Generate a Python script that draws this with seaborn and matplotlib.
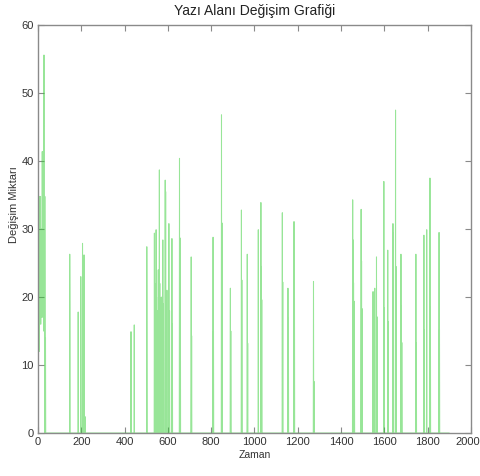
import numpy as np
import pandas as pd
import matplotlib
matplotlib.use("Agg")
import matplotlib.pyplot as plt
import matplotlib.transforms as mtransforms
import seaborn as sns

# ---- data ----
title = "Yazı Alanı Değişim Grafiği"
x_label = "Zaman"
y_label = "Değişim Miktarı"
x_ticks = [0, 200, 400, 600, 800, 1000, 1200, 1400, 1600, 1800, 2000]
y_ticks = [0, 10, 20, 30, 40, 50, 60]

# spike positions (Zaman) and heights (Değişim Miktarı)
spike_times = [
    0, 1, 2, 3, 4, 5, 6, 7, 8, 9, 10, 11, 12, 13, 14, 15, 16, 17, 18, 19,
    20, 21, 22, 23, 24, 25, 26, 27, 28, 29, 30, 32, 33, 35,
    147, 148, 186, 198, 206, 207, 213, 218,
    430, 445, 503, 504,
    538, 540, 546, 548, 552, 556, 561, 563, 570, 577, 580, 588, 590, 596,
    605, 608, 619, 621, 654, 656, 658, 708, 710,
    809, 811, 848, 850, 889, 891, 940, 942, 967, 969,
    1018, 1030, 1032, 1034, 1129, 1131, 1155, 1157, 1183, 1185, 1273, 1275,
    1454, 1456, 1458, 1460, 1462, 1493, 1495, 1497,
    1548, 1550, 1556, 1564, 1566, 1598, 1600, 1616, 1618,
    1640, 1642, 1652, 1654, 1677, 1679, 1681,
    1746, 1748, 1783, 1785, 1796, 1811, 1813, 1853, 1855,
]
spike_values = [
    18, 22, 15, 25, 20, 30, 12, 19, 34.8, 17, 21, 28, 34.8, 16, 20, 24, 19, 30, 22, 17,
    41.4, 20, 26, 34.8, 18, 22, 15, 30, 55.6, 20, 25, 34.8, 18, 14,
    26.3, 17.1, 17.8, 23.0, 27.9, 18.0, 26.2, 2.4,
    14.9, 15.9, 27.4, 13.9,
    29.4, 22.0, 29.9, 20.0, 18.0, 24.0, 38.7, 22.0, 20.0, 28.4, 19.0, 37.2, 35.5, 21.0,
    30.8, 18.0, 28.6, 16.0, 40.4, 28.7, 23.5, 25.9, 14.3,
    28.8, 15.0, 46.8, 30.9, 21.3, 15.0, 32.8, 22.5, 26.3, 13.2,
    29.9, 33.9, 24.5, 19.6, 32.4, 22.2, 21.3, 16.9, 31.1, 23.6, 22.3, 7.6,
    34.3, 28.4, 22.1, 19.4, 12.6, 32.9, 25.3, 18.3,
    20.8, 12.1, 21.3, 25.9, 17.1, 37.0, 18.4, 26.9, 16.4,
    30.8, 29.4, 47.5, 24.5, 26.3, 18.7, 13.3,
    26.3, 13.3, 29.1, 15.2, 29.9, 37.5, 18.6, 29.5, 15.2,
]
t_end = 1900

# ---- build the series (zero between spikes) ----
t = np.arange(0, t_end + 1)
v = np.zeros_like(t, dtype=float)
v[np.array(spike_times)] = spike_values
df = pd.DataFrame({"Zaman": t, "Deger": v})

sns.set_theme(style="white")
plt.rcParams["font.family"] = ["Liberation Sans", "DejaVu Sans"]

fig = plt.figure(figsize=(4.80, 4.76), dpi=100)
ax = fig.add_axes([0.079, 0.0903, 0.902, 0.857])

sns.lineplot(data=df, x="Zaman", y="Deger", ax=ax, estimator=None, sort=False,
             color="#33cc33", linewidth=0.75, alpha=0.5)

ax.set_xlim(0, 2000)
ax.set_ylim(0, 60)
ax.set_xticks(x_ticks)
ax.set_yticks(y_ticks)
ax.set_xticklabels([str(x) for x in x_ticks])
ax.set_yticklabels([str(y) for y in y_ticks])

for s in ax.spines.values():
    s.set_color("#8a8a8a")
    s.set_linewidth(1.0)
    s.set_zorder(5)
ax.tick_params(direction="in", length=4, width=0.8, color="#8a8a8a",
               labelsize=8, labelcolor="#333333", top=True, right=True,
               bottom=True, left=True, pad=3)

# keep last x tick label inside the figure
last = ax.get_xticklabels()[-1]
last.set_transform(last.get_transform() +
                   mtransforms.ScaledTranslation(-3 / 100, 0, fig.dpi_scale_trans))

ax.set_title(title, fontsize=10, color="#222222", pad=7)
ax.set_xlabel(x_label, fontsize=7.5, color="#333333", labelpad=2)
ax.set_ylabel(y_label, fontsize=8, color="#333333")
ax.yaxis.set_label_coords(-0.043, 0.56)
ax.grid(False)

fig.savefig("out.png", dpi=100)
